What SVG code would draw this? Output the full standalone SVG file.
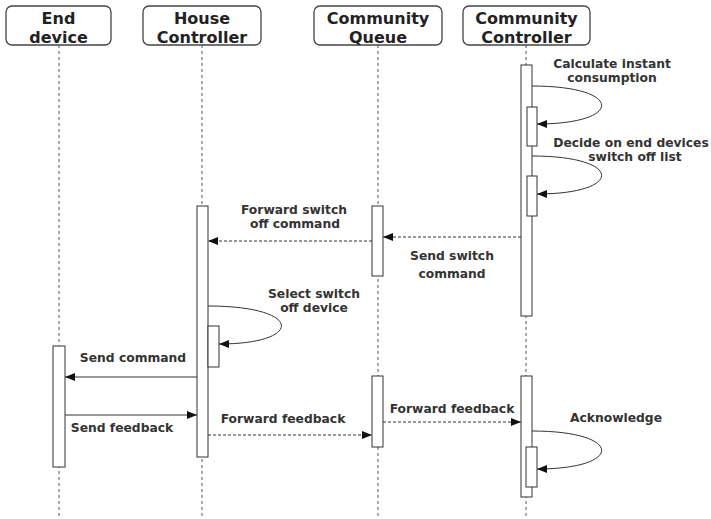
<svg xmlns="http://www.w3.org/2000/svg" width="711" height="519" viewBox="0 0 711 519">
  <style>
    .hdr { fill: #fff; stroke: #444; stroke-width: 1.3; }
    .hdr-text { font-family: "DejaVu Sans", Verdana, sans-serif; font-weight: bold; font-size: 16px; fill: #222; text-anchor: middle; }
    .life { stroke: #555; stroke-width: 1; stroke-dasharray: 3 3; fill: none; }
    .act { fill: #fff; stroke: #333; stroke-width: 1; }
    .msg { stroke: #333; stroke-width: 1; fill: none; }
    .ret { stroke: #333; stroke-width: 1; fill: none; stroke-dasharray: 3 2; }
    .lbl { font-family: "DejaVu Sans", Verdana, sans-serif; font-weight: bold; font-size: 12.3px; fill: #333; text-anchor: middle; }
  </style>
  <defs>
    <marker id="arrow" markerUnits="userSpaceOnUse" markerWidth="12" markerHeight="10" refX="10" refY="5" orient="auto">
      <path d="M0,1 L10,5 L0,9 Z" fill="#111"/>
    </marker>
  </defs>

  <rect width="711" height="519" fill="#fff"/>

  <!-- participants with lifelines -->
  <g id="end-device">
    <line class="life" x1="59" y1="45" x2="59" y2="519"/>
    <rect class="hdr" x="6" y="6" width="105" height="39" rx="6"/>
    <text class="hdr-text" x="58.5" y="24">End</text>
    <text class="hdr-text" x="58.5" y="43">device</text>
    <rect class="act" x="53" y="346" width="12" height="121"/>
  </g>

  <g id="house-controller">
    <line class="life" x1="202" y1="45" x2="202" y2="519"/>
    <rect class="hdr" x="143" y="6" width="118" height="39" rx="6"/>
    <text class="hdr-text" x="202" y="24">House</text>
    <text class="hdr-text" x="202" y="43">Controller</text>
    <rect class="act" x="197" y="206" width="11" height="251"/>
    <rect class="act" x="208" y="326" width="11" height="41"/>
  </g>

  <g id="community-queue">
    <line class="life" x1="378" y1="45" x2="378" y2="519"/>
    <rect class="hdr" x="314" y="6" width="128" height="39" rx="6"/>
    <text class="hdr-text" x="378" y="24">Community</text>
    <text class="hdr-text" x="378" y="43">Queue</text>
    <rect class="act" x="372" y="206" width="11" height="70"/>
    <rect class="act" x="372" y="376" width="11" height="71"/>
  </g>

  <g id="community-controller">
    <line class="life" x1="526" y1="45" x2="526" y2="519"/>
    <rect class="hdr" x="463" y="6" width="127" height="39" rx="6"/>
    <text class="hdr-text" x="526.5" y="24">Community</text>
    <text class="hdr-text" x="526.5" y="43">Controller</text>
    <rect class="act" x="521" y="65" width="11" height="251"/>
    <rect class="act" x="527" y="107" width="10" height="39"/>
    <rect class="act" x="527" y="176" width="10" height="40"/>
    <rect class="act" x="521" y="376" width="11" height="121"/>
    <rect class="act" x="526" y="447" width="11" height="40"/>
  </g>

  <!-- messages -->
  <g id="connectors">
    <path class="msg" d="M532,86 C624,86 624,124 537,124" marker-end="url(#arrow)"/>
    <path class="msg" d="M532,156 C624,156 624,194 537,194" marker-end="url(#arrow)"/>
    <line class="ret" x1="521" y1="237" x2="383" y2="237" marker-end="url(#arrow)"/>
    <line class="ret" x1="372" y1="241" x2="208" y2="241" marker-end="url(#arrow)"/>
    <path class="msg" d="M208,306 C304,306 304,344 219,344" marker-end="url(#arrow)"/>
    <line class="msg" x1="197" y1="377" x2="65" y2="377" marker-end="url(#arrow)"/>
    <line class="msg" x1="65" y1="415" x2="197" y2="415" marker-end="url(#arrow)"/>
    <line class="ret" x1="208" y1="435" x2="372" y2="435" marker-end="url(#arrow)"/>
    <line class="ret" x1="383" y1="422" x2="521" y2="422" marker-end="url(#arrow)"/>
    <path class="msg" d="M532,431 C624,431 624,469 537,469" marker-end="url(#arrow)"/>
  </g>

  <!-- message labels -->
  <g id="labels">
    <text class="lbl" x="612" y="68">Calculate instant</text>
    <text class="lbl" x="612" y="82">consumption</text>
    <text class="lbl" x="631" y="147">Decide on end devices</text>
    <text class="lbl" x="635" y="161">switch off list</text>
    <text class="lbl" x="294" y="214">Forward switch</text>
    <text class="lbl" x="295" y="228">off command</text>
    <text class="lbl" x="452" y="260">Send switch</text>
    <text class="lbl" x="452" y="278">command</text>
    <text class="lbl" x="314" y="298">Select switch</text>
    <text class="lbl" x="314" y="312">off device</text>
    <text class="lbl" x="133" y="362">Send command</text>
    <text class="lbl" x="122" y="432">Send feedback</text>
    <text class="lbl" x="283" y="423">Forward feedback</text>
    <text class="lbl" x="452" y="413">Forward feedback</text>
    <text class="lbl" x="616" y="422">Acknowledge</text>
  </g>
</svg>
